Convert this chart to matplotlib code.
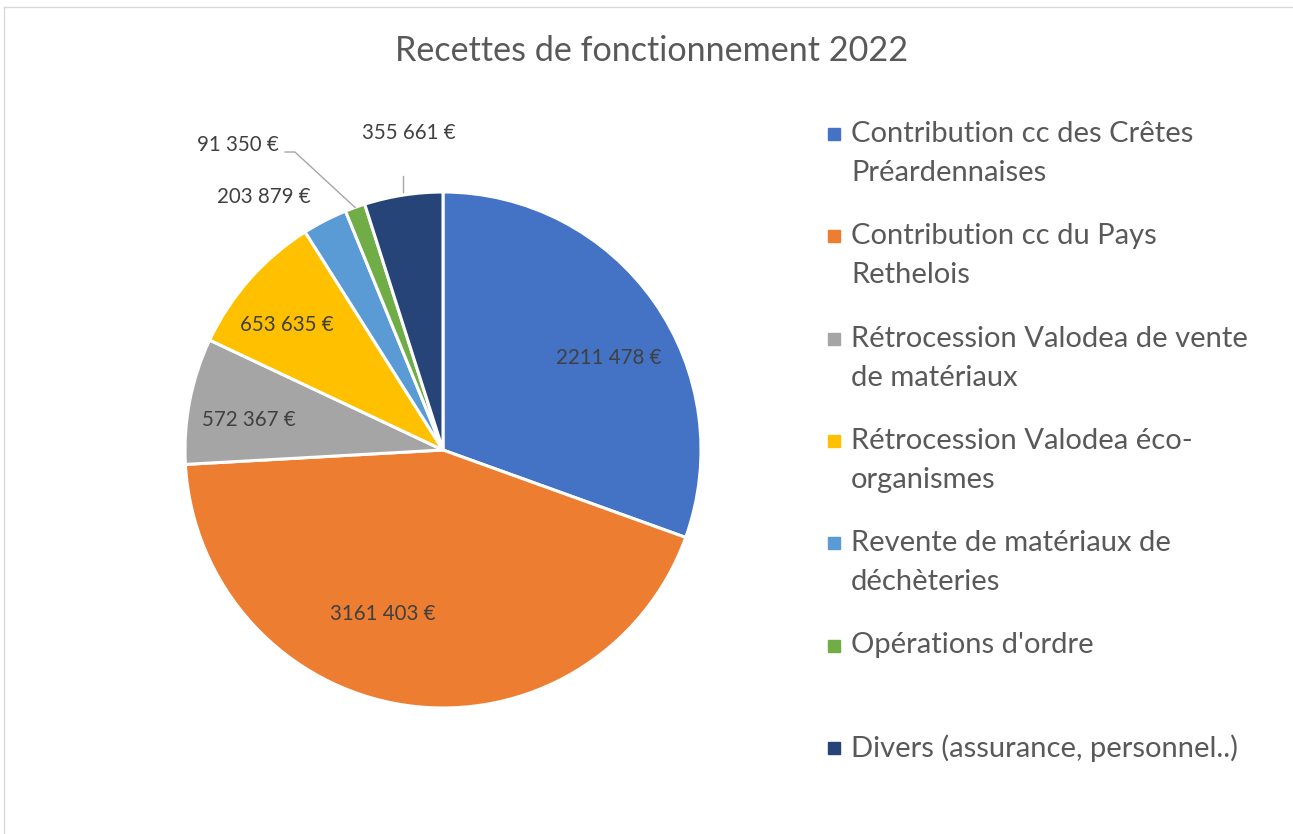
import numpy as np
import matplotlib.pyplot as plt
from matplotlib.lines import Line2D

# data
categories = ["Contribution cc des Crêtes\nPréardennaises",
              "Contribution cc du Pays\nRethelois",
              "Rétrocession Valodea de vente\nde matériaux",
              "Rétrocession Valodea éco-\norganismes",
              "Revente de matériaux de\ndéchèteries",
              "Opérations d'ordre",
              "Divers (assurance, personnel..)"]
values = [2211478, 3161403, 572367, 653635, 203879, 91350, 355661]
value_labels = ["2211 478 €", "3161 403 €", "572 367 €", "653 635 €",
                "203 879 €", "91 350 €", "355 661 €"]
colors = ["#4472C4", "#ED7D31", "#A5A5A5", "#FFC000", "#5B9BD5", "#70AD47", "#264478"]

plt.rcParams['font.family'] = ['Lato', 'DejaVu Sans']

W, H = 1293, 834
fig = plt.figure(figsize=(W / 100, H / 100), dpi=100)

# light frame (top and left visible)
fig.add_artist(Line2D([4 / W, 4 / W], [0, 1 - 7 / H], color="#D9D9D9", lw=1))
fig.add_artist(Line2D([4 / W, 1], [1 - 7 / H, 1 - 7 / H], color="#D9D9D9", lw=1))

cx, cy, r = 443, 450, 258
ax = fig.add_axes([(cx - r) / W, (H - cy - r) / H, 2 * r / W, 2 * r / H])
wedges, _ = ax.pie(values, colors=colors, startangle=90, counterclock=False,
                   wedgeprops=dict(edgecolor="white", linewidth=2.2))
ax.set_xlim(-1, 1)
ax.set_ylim(-1, 1)

txt_col = "#404040"
lab_size = 14.8
# inside label placement (radius, angle shift in degrees), like excel's best fit
in_r = [0.735, 0.677, 0.76, 0.775]
in_shift = [-6, -11.8, 2.2, 2.8]
for i, w in enumerate(wedges):
    mid = np.deg2rad((w.theta1 + w.theta2) / 2)
    if i < 4:
        a = mid + np.deg2rad(in_shift[i])
        ax.text(in_r[i] * np.cos(a), in_r[i] * np.sin(a), value_labels[i],
                ha="center", va="center", fontsize=lab_size, color=txt_col)
    elif i == 4:
        a = mid + np.deg2rad(8)
        ax.text(1.2 * np.cos(a), 1.2 * np.sin(a), value_labels[i],
                ha="center", va="center", fontsize=lab_size, color=txt_col)
    elif i == 5:
        ex, ey = np.cos(mid), np.sin(mid)
        ax.plot([ex, -0.574, -0.612], [ey, 1.155, 1.155], color="#A6A6A6",
                lw=1, clip_on=False)
        ax.text(-0.635, 1.182, value_labels[i], ha="right", va="center",
                fontsize=lab_size, color=txt_col)
    else:
        ex, ey = np.cos(mid), np.sin(mid)
        ax.plot([ex, ex], [1.0, 1.062], color="#A6A6A6", lw=1, clip_on=False)
        ax.text(ex + 0.02, 1.229, value_labels[i], ha="center", va="center",
                fontsize=lab_size, color=txt_col)

fig.text(652 / W, 1 - 51 / H, "Recettes de fonctionnement 2022", ha="center",
         va="center", fontsize=24.6, color="#595959")

# legend
y0, step, line_h = 134, 102.3, 39
for i, lab in enumerate(categories):
    y = y0 + i * step
    fig.patches.append(plt.Rectangle((828 / W, 1 - (y + 6) / H), 12 / W, 12 / H,
                                     transform=fig.transFigure, color=colors[i]))
    for j, part in enumerate(lab.split("\n")):
        fig.text(851 / W, 1 - (y + j * line_h) / H, part, ha="left", va="center",
                 fontsize=21, color="#595959")

fig.savefig("out.png", dpi=100)
